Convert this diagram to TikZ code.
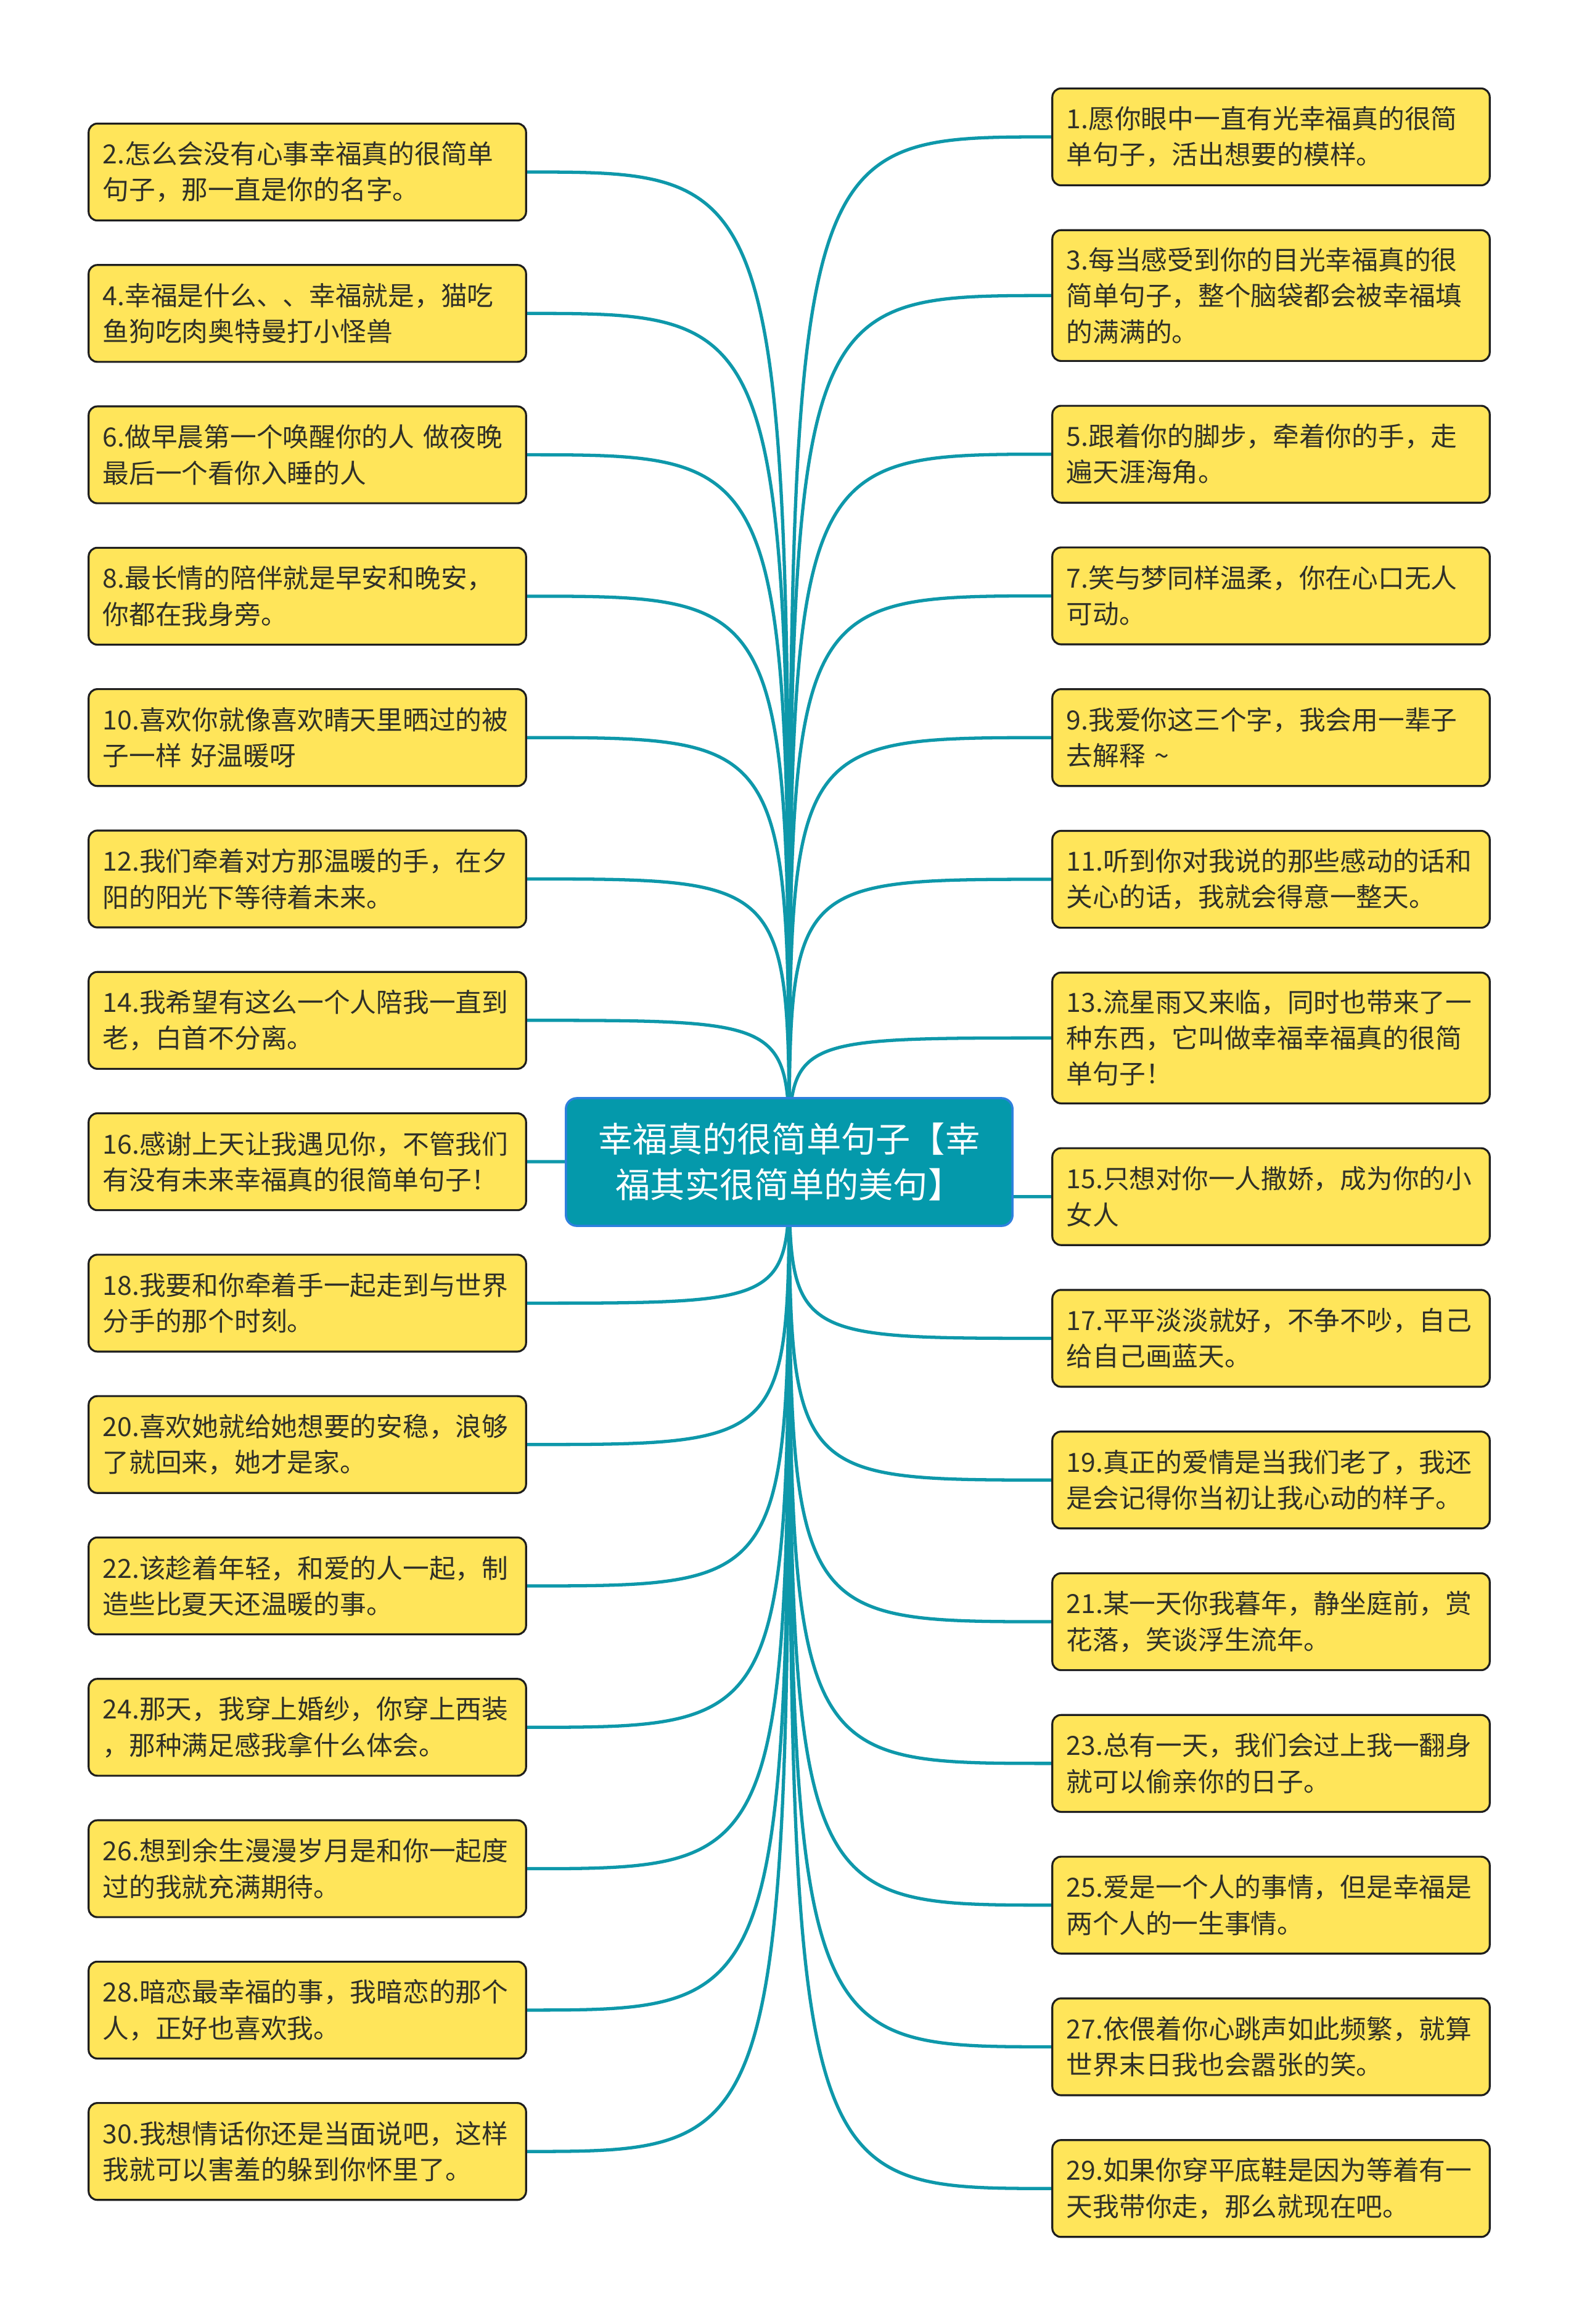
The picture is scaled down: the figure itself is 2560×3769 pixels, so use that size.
\documentclass[tikz,border=0pt]{standalone}
\usepackage{fontspec}
\setmainfont{Noto Sans CJK SC}
\usetikzlibrary{positioning,backgrounds}
\definecolor{quoteyellow}{RGB}{255,229,90}
\definecolor{quotetext}{RGB}{48,48,40}
\definecolor{quoteline}{RGB}{30,30,30}
\definecolor{rootteal}{RGB}{4,153,171}
\definecolor{rootblue}{RGB}{46,128,222}
\definecolor{linkteal}{RGB}{14,152,170}

\begin{document}
\begin{tikzpicture}[
  x=0.01cm,y=-0.01cm,
  quote/.style={draw=quoteline,line width=0.9pt,fill=quoteyellow,rounded corners=4pt,text=quotetext,align=left,text width=6.63cm,inner xsep=0.23cm,inner ysep=0pt,minimum height=1.57cm,font=\fontsize{12.15pt}{16.6pt}\selectfont},
  quote3/.style={quote,minimum height=2.12cm},
  root/.style={draw=rootblue,line width=1pt,fill=rootteal,rounded corners=5pt,text=white,align=center,minimum width=7.24cm,minimum height=2.07cm,font=\fontsize{16pt}{21pt}\selectfont},
  conn/.style={draw=linkteal,line width=1.5pt,line cap=round},
  node distance=0.69cm
]
\path[use as bounding box] (0,0) rectangle (2560,3769);
\node[root] (c) at (1280,1884.5) {幸福真的很简单句子【幸\\福其实很简单的美句】};
% left column
\node[quote] (l2) at (498.5,279) {2.怎么会没有心事幸福真的很简单\\句子，那一直是你的名字。};
\node[quote,below=of l2] (l4) {4.幸福是什么、、幸福就是，猫吃\\鱼狗吃肉奥特曼打小怪兽};
\node[quote,below=of l4] (l6) {6.做早晨第一个唤醒你的人 做夜晚\\最后一个看你入睡的人};
\node[quote,below=of l6] (l8) {8.最长情的陪伴就是早安和晚安，\\你都在我身旁。};
\node[quote,below=of l8] (l10) {10.喜欢你就像喜欢晴天里晒过的被\\子一样 好温暖呀};
\node[quote,below=of l10] (l12) {12.我们牵着对方那温暖的手，在夕\\阳的阳光下等待着未来。};
\node[quote,below=of l12] (l14) {14.我希望有这么一个人陪我一直到\\老，白首不分离。};
\node[quote,below=of l14] (l16) {16.感谢上天让我遇见你，不管我们\\有没有未来幸福真的很简单句子！};
\node[quote,below=of l16] (l18) {18.我要和你牵着手一起走到与世界\\分手的那个时刻。};
\node[quote,below=of l18] (l20) {20.喜欢她就给她想要的安稳，浪够\\了就回来，她才是家。};
\node[quote,below=of l20] (l22) {22.该趁着年轻，和爱的人一起，制\\造些比夏天还温暖的事。};
\node[quote,below=of l22] (l24) {24.那天，我穿上婚纱，你穿上西装\\，那种满足感我拿什么体会。};
\node[quote,below=of l24] (l26) {26.想到余生漫漫岁月是和你一起度\\过的我就充满期待。};
\node[quote,below=of l26] (l28) {28.暗恋最幸福的事，我暗恋的那个\\人，正好也喜欢我。};
\node[quote,below=of l28] (l30) {30.我想情话你还是当面说吧，这样\\我就可以害羞的躲到你怀里了。};
% right column
\begin{scope}[node distance=0.695cm]
\node[quote] (r1) at (2061.5,222) {1.愿你眼中一直有光幸福真的很简\\单句子，活出想要的模样。};
\node[quote3,below=of r1] (r3) {3.每当感受到你的目光幸福真的很\\简单句子，整个脑袋都会被幸福填\\的满满的。};
\node[quote,below=of r3] (r5) {5.跟着你的脚步，牵着你的手，走\\遍天涯海角。};
\node[quote,below=of r5] (r7) {7.笑与梦同样温柔，你在心口无人\\可动。};
\node[quote,below=of r7] (r9) {9.我爱你这三个字，我会用一辈子\\去解释 \textasciitilde};
\node[quote,below=of r9] (r11) {11.听到你对我说的那些感动的话和\\关心的话，我就会得意一整天。};
\node[quote3,below=of r11] (r13) {13.流星雨又来临，同时也带来了一\\种东西，它叫做幸福幸福真的很简\\单句子！};
\node[quote,below=of r13] (r15) {15.只想对你一人撒娇，成为你的小\\女人};
\node[quote,below=of r15] (r17) {17.平平淡淡就好，不争不吵，自己\\给自己画蓝天。};
\node[quote,below=of r17] (r19) {19.真正的爱情是当我们老了，我还\\是会记得你当初让我心动的样子。};
\node[quote,below=of r19] (r21) {21.某一天你我暮年，静坐庭前，赏\\花落，笑谈浮生流年。};
\node[quote,below=of r21] (r23) {23.总有一天，我们会过上我一翻身\\就可以偷亲你的日子。};
\node[quote,below=of r23] (r25) {25.爱是一个人的事情，但是幸福是\\两个人的一生事情。};
\node[quote,below=of r25] (r27) {27.依偎着你心跳声如此频繁，就算\\世界末日我也会嚣张的笑。};
\node[quote,below=of r27] (r29) {29.如果你穿平底鞋是因为等着有一\\天我带你走，那么就现在吧。};
\end{scope}
% branches
\begin{scope}[on background layer]
\fill[white] (0,0) rectangle (2560,3769);
\foreach \i in {2,4,...,30}
  \draw[conn] (c.center) .. controls (c.center |- l\i.east) .. (l\i.east);
\foreach \i in {1,3,...,29}
  \draw[conn] (c.center) .. controls (c.center |- r\i.west) .. (r\i.west);
\end{scope}
\end{tikzpicture}
\end{document}
